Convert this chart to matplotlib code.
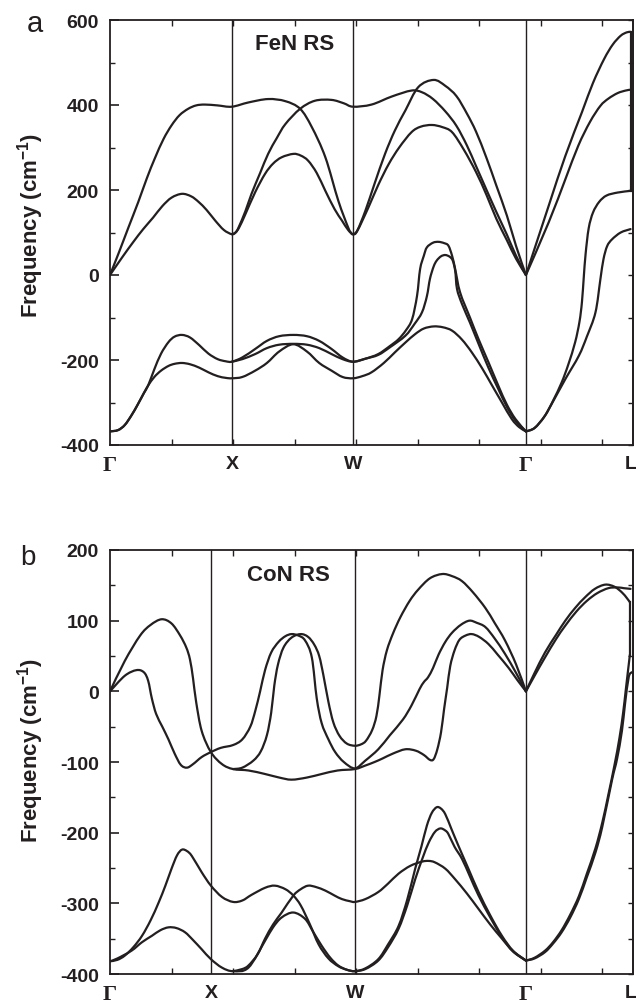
import matplotlib
matplotlib.use("Agg")
import matplotlib.pyplot as plt
import numpy as np
from matplotlib.path import Path
from matplotlib.patches import PathPatch

plt.rcParams['font.family'] = ['Liberation Sans', 'DejaVu Sans']
plt.rcParams['font.weight'] = 'bold'
plt.rcParams['axes.unicode_minus'] = False
plt.rcParams['mathtext.fontset'] = 'custom'
plt.rcParams['mathtext.rm'] = 'Liberation Sans:bold'
plt.rcParams['mathtext.bf'] = 'Liberation Sans:bold'

INK = '#231f20'
LW = 1.6

# high-symmetry points along the path (arbitrary k units, 0..8.5)
kpath_labels = ['\u0393', 'X', 'W', '\u0393', 'L']
fen_sym = [0, 1.98, 3.95, 6.76, 8.46]
con_sym = [0, 1.64, 3.98, 6.76, 8.46]

# ---- FeN rock salt, frequencies in cm^-1 (negative = imaginary) ----
fen_up1 = ([0, 0.15, 0.3, 0.46, 0.6, 0.73, 0.87, 1.0, 1.13, 1.27, 1.4, 1.54, 1.75, 1.98,
            2.25, 2.57, 2.85, 3.09, 3.28, 3.5, 3.71, 3.87, 3.92, 3.95,
            4.02, 4.15, 4.3, 4.47, 4.63, 4.8, 5.01, 5.26, 5.45, 5.63, 5.8, 5.95, 6.12, 6.28, 6.45, 6.6, 6.76],
           [0, 55, 112, 172, 228, 275, 320, 352, 376, 391, 399, 401, 399, 396,
            406, 414, 409, 391, 348, 277, 175, 112, 99, 96,
            105, 151, 215, 285, 340, 387, 442, 459, 445, 421, 380, 337, 275, 210, 140, 68, 0])
fen_up2 = ([0, 0.2, 0.38, 0.54, 0.7, 0.85, 1.0, 1.17, 1.32, 1.44, 1.57, 1.71, 1.85, 1.98,
            2.04, 2.1, 2.2, 2.36, 2.52, 2.65, 2.79, 2.98, 3.1, 3.22, 3.36, 3.5, 3.65, 3.77, 3.87, 3.95,
            4.02, 4.2, 4.36, 4.53, 4.7, 4.9, 5.05, 5.23, 5.4, 5.56, 5.75, 5.95, 6.12, 6.28, 6.45, 6.6, 6.76],
           [0, 42, 78, 108, 135, 162, 182, 191, 185, 172, 153, 128, 106, 96,
            100, 112, 143, 195, 238, 262, 277, 285, 281, 269, 240, 198, 155, 128, 106, 96,
            104, 159, 212, 261, 300, 336, 349, 353, 348, 336, 295, 242, 188, 132, 82, 38, 0])
fen_up3 = ([1.98, 2.04, 2.09, 2.2, 2.3, 2.44, 2.57, 2.71, 2.85, 3.09, 3.33, 3.6, 3.8, 3.95,
            4.25, 4.58, 4.9, 5.07, 5.25, 5.45, 5.63, 5.8, 5.95, 6.12, 6.28, 6.45, 6.6, 6.76],
           [96, 100, 112, 150, 191, 240, 285, 322, 355, 391, 410, 412, 404, 396,
            401, 420, 434, 430, 414, 385, 351, 305, 256, 200, 148, 95, 45, 0])
fen_gl1 = ([6.76, 7.13, 7.4, 7.67, 7.85, 8.03, 8.17, 8.3, 8.4, 8.46],
           [0, 163, 280, 383, 452, 508, 542, 563, 571, 572])
fen_gl2 = ([6.76, 7.13, 7.4, 7.61, 7.8, 7.97, 8.1, 8.25, 8.38, 8.46],
           [0, 124, 225, 304, 360, 398, 415, 428, 434, 436])

fen_lo1 = ([0, 0.13, 0.24, 0.35, 0.45, 0.55, 0.62, 0.72, 0.83, 0.95, 1.05, 1.17, 1.3, 1.45, 1.6, 1.75, 1.88, 1.98,
            2.15, 2.36, 2.55, 2.75, 2.98, 3.2, 3.4, 3.6, 3.78, 3.95,
            4.15, 4.36, 4.55, 4.69, 4.81, 4.91, 4.99, 5.04, 5.1, 5.15, 5.25, 5.34, 5.43, 5.5, 5.56, 5.61, 5.69,
            5.85, 5.99, 6.15, 6.31, 6.45, 6.59, 6.76],
           [-368, -365, -353, -330, -305, -278, -260, -222, -185, -158, -145, -141, -147, -165, -185, -198, -203, -204,
            -194, -174, -155, -144, -141, -144, -155, -174, -194, -204,
            -197, -186, -167, -151, -130, -104, -49, 14, 45, 65, 76, 78, 75, 69, 45, 14, -41,
            -100, -151, -205, -260, -305, -339, -368])
fen_lo2 = ([0, 0.13, 0.24, 0.35, 0.45, 0.55, 0.62, 0.72, 0.83, 0.95, 1.05, 1.17, 1.3, 1.45, 1.6, 1.75, 1.88, 1.98,
            2.15, 2.36, 2.55, 2.75, 2.98, 3.2, 3.4, 3.6, 3.78, 3.95,
            4.1, 4.25, 4.45, 4.63, 4.8, 4.96, 5.1, 5.26, 5.41, 5.56, 5.72, 5.88, 6.05, 6.21, 6.37, 6.53, 6.65, 6.76],
           [-368, -365, -353, -330, -305, -278, -260, -240, -225, -214, -209, -207, -210, -218, -229, -238, -242, -243,
            -240, -225, -207, -180, -163, -180, -207, -225, -240, -243,
            -238, -229, -207, -182, -159, -139, -126, -121, -123, -131, -152, -182, -220, -260, -300, -339, -358, -368])
fen_lo3 = ([1.98, 2.15, 2.36, 2.55, 2.75, 2.98, 3.2, 3.4, 3.6, 3.78, 3.95,
            4.15, 4.36, 4.55, 4.8, 4.95, 5.07, 5.15, 5.2, 5.26, 5.31, 5.38, 5.45, 5.52, 5.57, 5.61, 5.64,
            5.72, 5.85, 5.99, 6.15, 6.31, 6.45, 6.59, 6.76],
           [-204, -198, -186, -172, -164, -162, -164, -172, -186, -198, -204,
            -197, -188, -170, -143, -115, -88, -50, -9, 20, 34, 44, 47, 43, 34, 10, -33,
            -68, -112, -162, -218, -268, -310, -343, -368])
fen_gl_lo1 = ([6.76, 6.9, 7.07, 7.2, 7.34, 7.45, 7.56, 7.63, 7.67, 7.7, 7.73, 7.78, 7.85, 7.95, 8.07, 8.25, 8.46],
              [-368, -360, -331, -296, -253, -210, -158, -110, -64, -5, 50, 110, 147, 172, 187, 194, 198])
fen_gl_lo2 = ([6.76, 6.9, 7.05, 7.18, 7.4, 7.62, 7.75, 7.89, 7.97, 8.02, 8.08, 8.16, 8.3, 8.46],
              [-368, -360, -335, -303, -245, -190, -145, -88, -10, 37, 68, 84, 100, 108])

# ---- CoN rock salt ----
con_up1 = ([0, 0.24, 0.49, 0.66, 0.84, 1.0, 1.14, 1.24, 1.3, 1.35, 1.4, 1.49, 1.64, 1.82, 2.0,
            2.25, 2.52, 2.75, 2.95, 3.2, 3.44, 3.7, 3.98,
            4.15, 4.3, 4.43, 4.6, 4.8, 4.97, 5.1, 5.2, 5.26, 5.32, 5.38, 5.43, 5.48, 5.53, 5.6, 5.68, 5.78, 5.88,
            6.0, 6.15, 6.3, 6.48, 6.62, 6.76],
           [0, 43, 79, 94, 102, 96, 79, 62, 45, 18, -15, -56, -86, -103, -110,
            -112, -117, -122, -125, -122, -117, -112, -110,
            -105, -100, -95, -88, -82, -84, -90, -97, -96, -82, -58, -25, 5, 36, 58, 73, 79, 81,
            77, 67, 52, 33, 16, 0])
con_up2 = ([0, 0.24, 0.43, 0.55, 0.62, 0.68, 0.75, 0.85, 0.95, 1.05, 1.15, 1.25, 1.35, 1.49, 1.64,
            1.8, 2.0, 2.15, 2.28, 2.36, 2.44, 2.52, 2.62, 2.74, 2.85, 2.95, 3.06, 3.17, 3.28, 3.36, 3.44, 3.55,
            3.66, 3.8, 3.98,
            4.15, 4.36, 4.55, 4.76, 4.9, 5.03, 5.1, 5.17, 5.25, 5.34, 5.45, 5.56, 5.7, 5.84, 5.96, 6.1, 6.25,
            6.42, 6.6, 6.76],
           [0, 22, 30, 27, 15, -10, -32, -50, -68, -88, -104, -108, -103, -93, -86,
            -80, -76, -68, -50, -28, 0, 30, 55, 70, 78, 81, 79, 72, 48, -10, -45, -68,
            -86, -100, -109,
            -98, -82, -62, -40, -20, 3, 13, 20, 33, 52, 70, 83, 94, 100, 97, 91, 75,
            53, 26, 0])
con_up3 = ([2.0, 2.15, 2.33, 2.45, 2.55, 2.62, 2.67, 2.73, 2.82, 2.95, 3.1, 3.22, 3.32, 3.4, 3.47, 3.55, 3.63,
            3.73, 3.85, 3.98,
            4.08, 4.16, 4.26, 4.33, 4.38, 4.43, 4.5, 4.6, 4.72, 4.87, 5.01, 5.2, 5.4, 5.56, 5.72, 5.9, 6.1,
            6.25, 6.42, 6.6, 6.76],
           [-110, -108, -98, -85, -62, -30, 8, 38, 62, 76, 81, 77, 66, 50, 22, -15, -44,
            -63, -74, -77,
            -75, -70, -55, -35, -5, 30, 58, 82, 105, 128, 144, 160, 166, 163, 156, 140, 118,
            97, 72, 38, 0])
con_gl1 = ([6.76, 6.9, 7.07, 7.25, 7.4, 7.56, 7.72, 7.88, 8.05, 8.2, 8.32, 8.4, 8.45],
           [0, 26, 55, 80, 100, 118, 133, 145, 151, 148, 140, 132, 126])
con_gl2 = ([6.76, 6.9, 7.07, 7.25, 7.4, 7.58, 7.75, 7.92, 8.1, 8.25, 8.35, 8.46],
           [0, 22, 48, 74, 93, 113, 128, 139, 146, 147, 146, 145])

con_lo1 = ([0, 0.12, 0.24, 0.38, 0.52, 0.66, 0.79, 0.9, 1.0, 1.09, 1.17, 1.25, 1.33, 1.49, 1.64, 1.82, 2.0,
            2.15, 2.3, 2.52, 2.68, 2.85, 2.98, 3.1, 3.25, 3.39, 3.55, 3.71, 3.85, 3.98,
            4.15, 4.36, 4.52, 4.69, 4.83, 4.96, 5.06, 5.15, 5.23, 5.31, 5.38, 5.45, 5.55, 5.66, 5.82, 5.99,
            6.18, 6.37, 6.55, 6.76],
           [-382, -380, -374, -362, -346, -324, -299, -275, -251, -232, -224, -226, -233, -256, -275, -291, -298,
            -296, -288, -278, -275, -280, -289, -303, -330, -358, -378, -389, -394, -396,
            -392, -379, -358, -332, -295, -251, -220, -190, -172, -164, -166, -174, -195, -218, -250, -284,
            -317, -346, -367, -381])
con_lo2 = ([0, 0.12, 0.35, 0.52, 0.68, 0.82, 0.95, 1.08, 1.22, 1.35, 1.49, 1.64, 1.82, 2.0,
            2.25, 2.52, 2.65, 2.79, 2.98, 3.17, 3.3, 3.44, 3.58, 3.71, 3.85, 3.98,
            4.15, 4.36, 4.52, 4.69, 4.83, 4.96, 5.08, 5.18, 5.28, 5.37, 5.45, 5.5, 5.6, 5.72, 5.85, 5.99,
            6.18, 6.37, 6.55, 6.76],
           [-382, -378, -367, -355, -346, -338, -334, -335, -341, -352, -365, -379, -391, -396,
            -391, -353, -334, -320, -313, -322, -340, -360, -377, -388, -394, -396,
            -393, -381, -362, -336, -303, -266, -236, -214, -199, -194, -197, -202, -220, -237, -262, -289,
            -320, -348, -368, -381])
con_lo3 = ([2.0, 2.15, 2.25, 2.4, 2.52, 2.65, 2.79, 2.98, 3.1, 3.22, 3.35, 3.5, 3.65, 3.77, 3.9, 3.98,
            4.15, 4.36, 4.52, 4.69, 4.88, 5.07, 5.18, 5.28, 5.45, 5.61, 5.8, 5.99, 6.18, 6.37, 6.55, 6.76],
           [-396, -393, -388, -372, -350, -330, -313, -289, -280, -275, -277, -282, -289, -294, -297, -298,
            -294, -284, -272, -258, -247, -241, -240, -242, -251, -266, -286, -308, -330, -350, -368, -381])
con_gl_lo1 = ([6.76, 6.9, 7.07, 7.2, 7.34, 7.48, 7.62, 7.75, 7.89, 8.0, 8.1, 8.2, 8.28, 8.34, 8.38, 8.42, 8.45],
              [-381, -377, -367, -355, -338, -316, -290, -258, -222, -186, -146, -104, -66, -30, 0, 30, 52])
con_gl_lo2 = ([6.76, 6.9, 7.07, 7.2, 7.34, 7.48, 7.62, 7.75, 7.89, 8.0, 8.16, 8.24, 8.32, 8.37, 8.43, 8.48],
              [-381, -378, -369, -357, -341, -320, -294, -263, -228, -192, -125, -96, -56, -18, 20, 27])


def band_path(k, f):
    # Catmull-Rom through the read points, written as cubic Bezier segments
    pts = np.column_stack([k, f]).astype(float)
    n = len(pts)
    verts = [pts[0]]
    codes = [Path.MOVETO]
    for i in range(n - 1):
        p0 = pts[i - 1] if i > 0 else pts[i]
        p1, p2 = pts[i], pts[i + 1]
        p3 = pts[i + 2] if i + 2 < n else pts[i + 1]
        verts += [p1 + (p2 - p0) / 6.0, p2 - (p3 - p1) / 6.0, p2]
        codes += [Path.CURVE4] * 3
    return Path(verts, codes)


def draw_bands(ax, bands):
    for k, f in bands:
        ax.add_patch(PathPatch(band_path(k, f), fill=False, lw=LW, ec=INK,
                               joinstyle='round', capstyle='round', zorder=3))


def style_panel(ax, sym, ylim, major, minor, right_step, title, title_xy):
    ax.set_xlim(0, 8.5)
    ax.set_ylim(*ylim)
    for x in sym[1:4]:
        ax.axvline(x, color=INK, lw=1.0, zorder=2)
    for s in ax.spines.values():
        s.set_linewidth(1.3)
        s.set_color(INK)

    ax.set_xticks(sym)
    ax.set_xticklabels(kpath_labels)
    for lab in ax.get_xticklabels():
        if lab.get_text() == '\u0393':
            lab.set_fontfamily('Liberation Serif')
            lab.set_fontweight('bold')
            lab.set_fontsize(16)
        else:
            lab.set_fontsize(14)
    ax.set_xticks(np.arange(1, 9), minor=True)
    ax.tick_params(axis='x', which='major', length=0, pad=7, colors=INK)
    ax.tick_params(axis='x', which='minor', direction='in', length=4, width=1.0,
                   top=True, bottom=True, color=INK)

    ax.set_yticks(major)
    ax.set_yticklabels([str(v) for v in major])
    ax.set_yticks(minor, minor=True)
    ax.tick_params(axis='y', which='major', direction='in', length=6.5, width=1.2,
                   labelsize=14, pad=8, colors=INK)
    ax.tick_params(axis='y', which='minor', direction='in', length=3.5, width=1.0, color=INK)

    sec = ax.secondary_yaxis('right')
    sec.set_yticks(np.arange(ylim[0], ylim[1] + 1, right_step))
    sec.tick_params(direction='in', length=3.5, width=1.0, labelright=False, color=INK)
    sec.spines['right'].set_linewidth(1.3)
    sec.spines['right'].set_color(INK)

    ax.text(title_xy[0], title_xy[1], title, fontsize=16, fontweight='bold',
            color=INK, ha='center', va='center', transform=ax.transData)


fig = plt.figure(figsize=(6.36, 10.04), dpi=100)
ax_a = fig.add_axes([110 / 636, 1 - 446 / 1004, 523 / 636, 425 / 1004])
ax_b = fig.add_axes([110 / 636, 1 - 975 / 1004, 523 / 636, 424 / 1004])

# panel a: FeN
draw_bands(ax_a, [fen_up1, fen_up2, fen_up3, fen_gl1, fen_gl2,
                  fen_lo1, fen_lo2, fen_lo3, fen_gl_lo1, fen_gl_lo2])
ax_a.plot([fen_gl1[0][-1]] * 2, [fen_gl_lo1[1][-1], fen_gl1[1][-1]], color=INK, lw=LW, zorder=3)
style_panel(ax_a, fen_sym, (-400, 600), np.arange(-400, 601, 200), np.arange(-300, 600, 200),
            100, 'FeN RS', (3.0, 545))

# panel b: CoN
draw_bands(ax_b, [con_up1, con_up2, con_up3, con_gl1, con_gl2,
                  con_lo1, con_lo2, con_lo3, con_gl_lo1, con_gl_lo2])
ax_b.plot([con_gl1[0][-1]] * 2, [con_gl_lo1[1][-1], con_gl1[1][-1]], color=INK, lw=LW, zorder=3)
style_panel(ax_b, con_sym, (-400, 200), np.arange(-400, 201, 100), np.arange(-350, 200, 100),
            50, 'CoN RS', (2.9, 166))

ylab = r'Frequency (cm$^{\mathbf{-1}}$)'
fig.text(31 / 636, 1 - 225 / 1004, ylab, rotation=90, fontsize=16, fontweight='bold',
         color=INK, ha='center', va='center')
fig.text(31 / 636, 1 - 750 / 1004, ylab, rotation=90, fontsize=16, fontweight='bold',
         color=INK, ha='center', va='center')
fig.text(35 / 636, 1 - 32 / 1004, 'a', fontsize=21, fontweight='normal', color=INK,
         ha='center', va='baseline')
fig.text(28 / 636, 1 - 565 / 1004, 'b', fontsize=20, fontweight='normal', color=INK,
         ha='center', va='baseline')

fig.savefig('out.png', dpi=100, facecolor='white')
